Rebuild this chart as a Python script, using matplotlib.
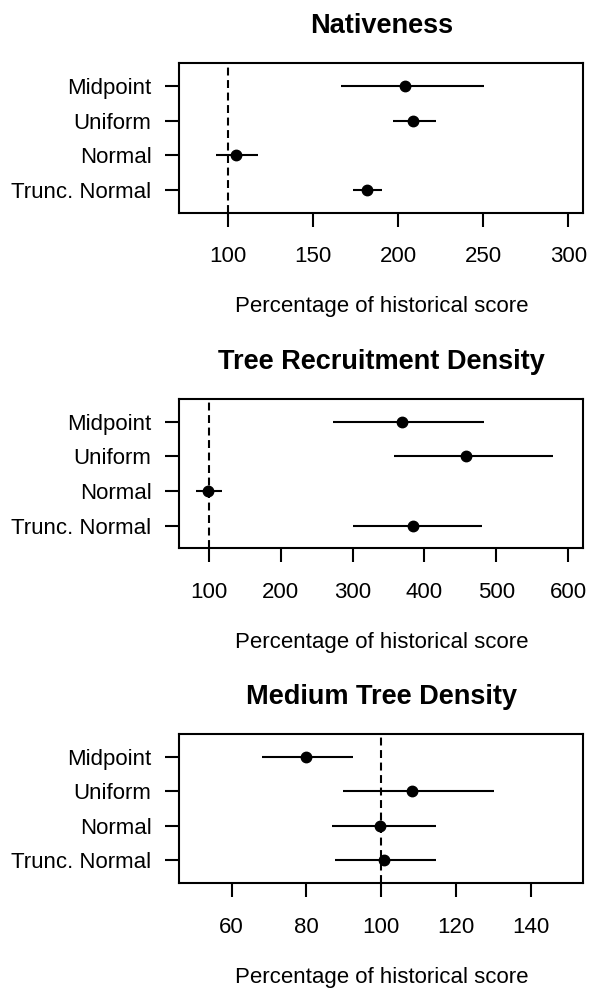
import numpy as np
import matplotlib.pyplot as plt

plt.rcParams['font.family'] = ['Liberation Sans', 'DejaVu Sans']

methods = ['Midpoint', 'Uniform', 'Normal', 'Trunc. Normal']
titles = ['Nativeness', 'Tree Recruitment Density', 'Medium Tree Density']

# point estimate, lower, upper (percentage of historical score)
nat_est = [203.9, 208.8, 104.7, 181.8]
nat_lo = [166.1, 197.0, 92.9, 173.3]
nat_hi = [250.4, 222.0, 117.6, 190.6]

rec_est = [368.6, 457.9, 99.2, 384.7]
rec_lo = [272.8, 357.0, 82.5, 300.0]
rec_hi = [483.3, 579.2, 118.6, 479.7]

med_est = [79.9, 108.3, 99.6, 100.7]
med_lo = [68.0, 89.7, 86.7, 87.6]
med_hi = [92.4, 130.0, 114.7, 114.7]

panels = [
    (nat_est, nat_lo, nat_hi, (80, 300), [100, 150, 200, 250, 300]),
    (rec_est, rec_lo, rec_hi, (80, 600), [100, 200, 300, 400, 500, 600]),
    (med_est, med_lo, med_hi, (50, 150), [60, 80, 100, 120, 140]),
]
ax_bottoms = [0.7847, 0.4450, 0.1060]

fig = plt.figure(figsize=(5.99, 9.88), dpi=100)

for i, (est, lo, hi, rng, ticks) in enumerate(panels):
    ax = fig.add_axes([0.2993, ax_bottoms[i], 0.6745, 0.1512])
    y = np.arange(len(methods), 0, -1)
    ax.hlines(y, lo, hi, color='black', lw=1.5)
    ax.plot(est, y, 'o', color='black', markersize=7.5)
    ax.axvline(100, color='black', lw=1.5, ls=(0, (3.8, 2.2)))

    # R-style 4% padding around the range
    ext = 0.04 * (rng[1] - rng[0])
    ax.set_xlim(rng[0] - ext, rng[1] + ext)
    ax.set_ylim(0.34, 4.66)
    ax.set_xticks(ticks)
    ax.set_yticks(y)
    ax.set_yticklabels(methods)
    ax.tick_params(length=10, width=1.5, labelsize=16)
    ax.tick_params(axis='x', pad=14)
    ax.tick_params(axis='y', pad=10)
    for s in ax.spines.values():
        s.set_linewidth(1.5)

    ax.set_title(titles[i], fontsize=19.5, fontweight='bold', pad=21.5)
    ax.set_xlabel('Percentage of historical score', fontsize=16)
    ax.xaxis.set_label_coords(0.5, -0.629)
    ax.xaxis.label.set_va('center')

fig.savefig('out.png', dpi=100)
